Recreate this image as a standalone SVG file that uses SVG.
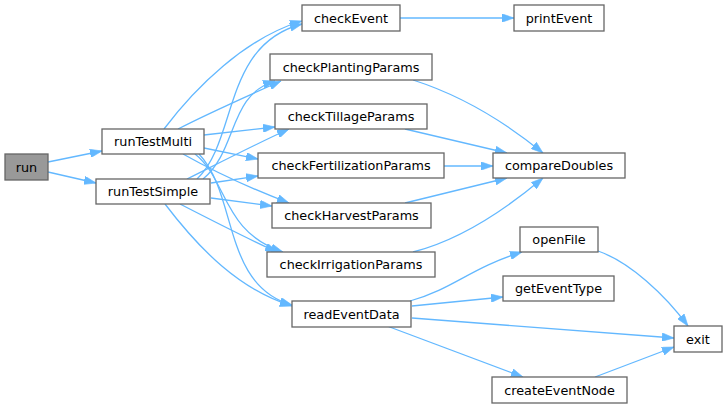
<svg xmlns="http://www.w3.org/2000/svg" width="727" height="408" viewBox="0 0 727 408">
<style>
.n rect{fill:#ffffff;stroke:#666666;stroke-width:1.3}
#run rect{fill:#999999}
.n text{font-family:"DejaVu Sans",Verdana,sans-serif;font-size:12.8px;fill:#000000;text-anchor:middle}
.e path{fill:none;stroke:#63b8ff;stroke-width:1.3;marker-end:url(#ah)}
</style>
<defs>
<marker id="ah" viewBox="0 0 10 7" refX="10" refY="3.5" markerWidth="12" markerHeight="8.4" markerUnits="userSpaceOnUse" orient="auto">
<path d="M0,0 L10,3.5 L0,7 z" fill="#63b8ff" stroke="#63b8ff" stroke-width="0.5"/>
</marker>
</defs>
<rect width="727" height="408" fill="#ffffff"/>
<g class="e" id="edges">
<path d="M48,162 L102,151"/>
<path d="M48,172 L96,183"/>
<path d="M164,129 C195,88 245,38 302,21"/>
<path d="M178,129 C205,115 245,97 281,81"/>
<path d="M204,135 L275,127"/>
<path d="M204,148 L258,159"/>
<path d="M183,154 C215,172 255,190 289,203"/>
<path d="M195,154 C228,180 222,232 283,252"/>
<path d="M199,154 C238,195 222,285 292,305"/>
<path d="M197,179 C238,140 222,45 302,24"/>
<path d="M203,179 C238,150 228,95 275,81"/>
<path d="M187,179 C225,160 258,143 289,129"/>
<path d="M211,183 L258,176"/>
<path d="M211,198 L272,206"/>
<path d="M180,204 C215,222 250,240 277,252"/>
<path d="M165,204 C200,250 240,290 292,306"/>
<path d="M400,18 L514,18"/>
<path d="M413,80 C460,95 505,122 543,153"/>
<path d="M405,129 L507,153"/>
<path d="M444,166 L493,166"/>
<path d="M405,203 L507,178"/>
<path d="M413,252 C460,240 505,210 543,178"/>
<path d="M410,301 C455,288 470,268 522,252"/>
<path d="M412,306 L503,297"/>
<path d="M412,318 L674,338"/>
<path d="M387,326 L523,377"/>
<path d="M598,251 C630,262 665,295 688,326"/>
<path d="M595,377 L674,347"/>
</g>
<g class="n" id="run"><rect x="5" y="154" width="43" height="26"/><text x="26.5" y="171.5">run</text></g>
<g class="n" id="runTestMulti"><rect x="102" y="129" width="102" height="25"/><text x="153" y="146">runTestMulti</text></g>
<g class="n" id="runTestSimple"><rect x="96" y="179" width="114" height="25"/><text x="153" y="196">runTestSimple</text></g>
<g class="n" id="checkEvent"><rect x="302" y="5" width="98" height="26"/><text x="351" y="22.5">checkEvent</text></g>
<g class="n" id="printEvent"><rect x="514" y="5" width="90" height="26"/><text x="559" y="22.5">printEvent</text></g>
<g class="n" id="checkPlantingParams"><rect x="270" y="54" width="162" height="26"/><text x="351" y="71.5">checkPlantingParams</text></g>
<g class="n" id="checkTillageParams"><rect x="275" y="104" width="152" height="25"/><text x="351" y="121">checkTillageParams</text></g>
<g class="n" id="checkFertilizationParams"><rect x="258" y="153" width="186" height="25"/><text x="351" y="170">checkFertilizationParams</text></g>
<g class="n" id="compareDoubles"><rect x="493" y="153" width="132" height="25"/><text x="559" y="170">compareDoubles</text></g>
<g class="n" id="checkHarvestParams"><rect x="272" y="203" width="159" height="25"/><text x="351.5" y="220">checkHarvestParams</text></g>
<g class="n" id="checkIrrigationParams"><rect x="267" y="252" width="168" height="25"/><text x="351" y="269">checkIrrigationParams</text></g>
<g class="n" id="readEventData"><rect x="292" y="301" width="119" height="26"/><text x="351.5" y="318.5">readEventData</text></g>
<g class="n" id="openFile"><rect x="520" y="227" width="78" height="25"/><text x="559" y="244">openFile</text></g>
<g class="n" id="getEventType"><rect x="503" y="276" width="111" height="25"/><text x="558.5" y="293">getEventType</text></g>
<g class="n" id="exit"><rect x="674" y="326" width="48" height="26"/><text x="698" y="343.5">exit</text></g>
<g class="n" id="createEventNode"><rect x="492" y="377" width="135" height="26"/><text x="559.5" y="394.5">createEventNode</text></g>
</svg>
